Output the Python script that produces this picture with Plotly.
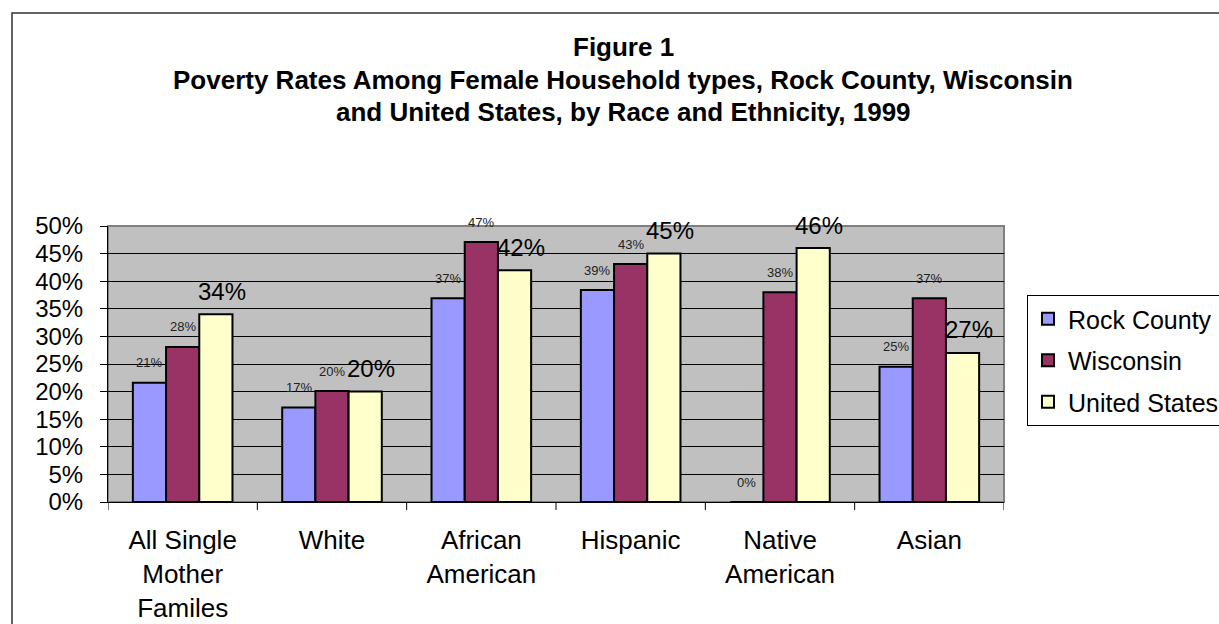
import plotly.graph_objects as go

categories = ["All Single<br>Mother<br>Familes", "White", "African<br>American",
              "Hispanic", "Native<br>American", "Asian"]
series_names = ["Rock County", "Wisconsin", "United States"]
rock_county = [21.6, 17.1, 36.9, 38.4, 0.0, 24.5]
wisconsin = [28.1, 20.1, 47.1, 43.1, 38.0, 36.9]
united_states = [34.0, 20.0, 42.0, 45.0, 46.0, 27.0]
rock_labels = ["21%", "17%", "37%", "39%", "0%", "25%"]
wisc_labels = ["28%", "20%", "47%", "43%", "38%", "37%"]
us_labels = ["34%", "20%", "42%", "45%", "46%", "27%"]
y_ticks = [0, 5, 10, 15, 20, 25, 30, 35, 40, 45, 50]
y_tick_text = [f"{v}%" for v in y_ticks]
title_lines = ["Figure 1",
               "Poverty Rates Among Female Household types, Rock County, Wisconsin",
               "and United States, by Race and Ethnicity, 1999"]

colors = ["#9999FF", "#993366", "#FFFFCC"]
FONT = "Arial, Liberation Sans, sans-serif"

W, H = 1219, 624
ML, MR, MT, MB = 108, W - 1004, 226, H - 502
PW, PH = W - ML - MR, H - MT - MB

def px_x(p):
    return (p - ML) / PW

def px_y(p):
    return (H - MB - p) / PH

fig = go.Figure()
all_vals = [rock_county, wisconsin, united_states]
for i, (name, vals) in enumerate(zip(series_names, all_vals)):
    fig.add_trace(go.Bar(
        x=list(range(len(categories))), y=vals, name=name,
        marker=dict(color=colors[i], line=dict(color="black", width=2)),
        legendgroup=name,
    ))

annotations = []
group_w = 1 - 0.333
bar_w = group_w / 3
label_sets = [rock_labels, wisc_labels, us_labels]
for s, (vals, labs) in enumerate(zip(all_vals, label_sets)):
    off = -group_w / 2 + bar_w * (s + 0.5)
    big = s == 2
    for j, (v, t) in enumerate(zip(vals, labs)):
        annotations.append(dict(
            x=j + off, y=v, xref="x", yref="y", text=t, showarrow=False,
            font=dict(family=FONT, size=24 if big else 13, color="black" if big else "#222"),
            yshift=23 if big else 20, xshift=6 if big else 0,
        ))

title_y = [47, 80, 112]
for line, yp in zip(title_lines, title_y):
    annotations.append(dict(
        x=px_x(623), y=px_y(yp), xref="paper", yref="paper", text=f"<b>{line}</b>",
        showarrow=False, font=dict(family=FONT, size=26, color="black"),
        xanchor="center", yanchor="middle",
    ))

shapes = [
    dict(type="rect", xref="paper", yref="paper", x0=0, x1=1, y0=0, y1=1,
         line=dict(color="#808080", width=2), layer="below"),
    dict(type="rect", xref="paper", yref="paper", x0=px_x(12), x1=px_x(1240),
         y0=px_y(640), y1=px_y(13), line=dict(color="#333333", width=1.5)),
]

fig.update_layout(
    width=W, height=H,
    margin=dict(l=ML, r=MR, t=MT, b=MB, pad=0, autoexpand=False),
    paper_bgcolor="white", plot_bgcolor="#C0C0C0",
    barmode="group", bargap=0.333, bargroupgap=0,
    font=dict(family=FONT, size=24, color="black"),
    showlegend=True,
    legend=dict(x=px_x(1027), y=px_y(295), xanchor="left", yanchor="top",
                bordercolor="black", borderwidth=1, bgcolor="white",
                font=dict(family=FONT, size=25), tracegroupgap=6,
                itemsizing="constant"),
    annotations=annotations, shapes=shapes,
    xaxis=dict(tickmode="array", tickvals=list(range(len(categories))), ticktext=categories,
               range=[-0.5, len(categories) - 0.5], showline=True, linecolor="black",
               linewidth=1, showgrid=False, zeroline=False, ticks="",
               ticklabelstandoff=15, tickfont=dict(family=FONT, size=26)),
    yaxis=dict(range=[0, 50], tickvals=y_ticks, ticktext=y_tick_text, showline=True,
               linecolor="black", linewidth=1, gridcolor="black", gridwidth=1,
               ticks="outside", ticklen=7, tickcolor="black", zeroline=False,
               ticklabelstandoff=12, tickfont=dict(family=FONT, size=24)),
)

for k in range(len(categories) + 1):
    fig.add_shape(type="line", xref="x", yref="paper", x0=k - 0.5, x1=k - 0.5,
                  y0=0, y1=px_y(510), line=dict(color="black", width=1))

fig.write_html("out.html", config={"displayModeBar": False},
               post_script="document.body.style.margin='0';")
